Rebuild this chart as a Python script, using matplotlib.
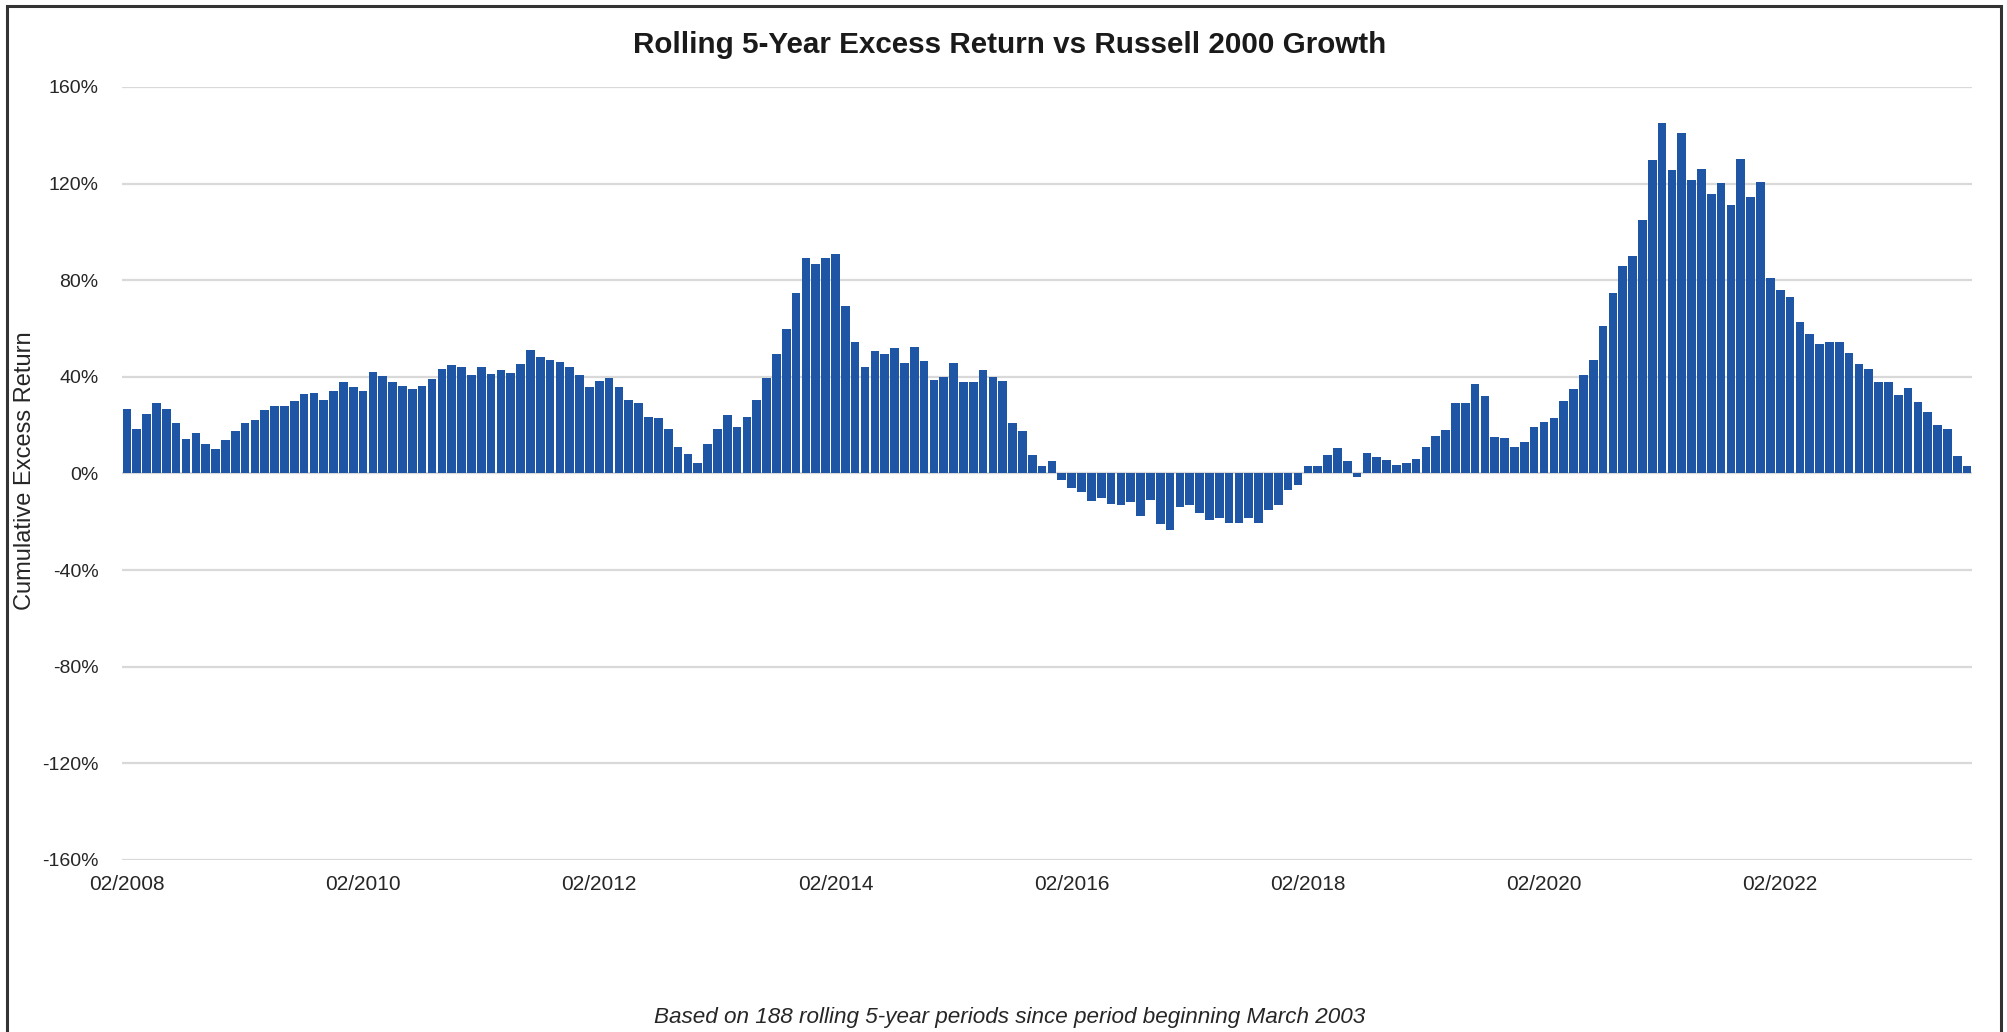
import matplotlib
matplotlib.use('Agg')
import matplotlib.pyplot as plt
import matplotlib.patches as patches
import numpy as np
import pandas as pd

bar_color = '#1f55a5'
grid_color = '#d9d9d9'
text_color = '#262626'

# period end months, 03/2003 start -> first 5-year window ends 02/2008
periods = pd.date_range('2008-02-01', periods=188, freq='MS').strftime('%m/%Y').tolist()

# cumulative 5-year excess return (%) per rolling period
excess_2008_2011 = [
    26.5, 18.6, 24.8, 29.2, 26.5, 20.7, 14.3, 16.6, 12.4, 10.0, 13.8, 17.7,
    20.7, 22.0, 26.3, 27.9, 27.9, 29.9, 32.7, 33.2, 30.6, 34.0, 37.7, 35.6,
    34.0, 41.9, 40.4, 37.7, 36.3, 34.8, 36.1, 39.3, 43.4, 44.8, 43.9, 40.7,
    43.9, 41.1, 42.8, 41.5, 45.5, 51.0, 48.3, 46.9, 46.2, 43.9, 40.7, 35.6,
]
excess_2012_2015 = [
    38.3, 39.6, 35.6, 30.3, 29.2, 23.4, 22.8, 18.3, 10.8, 8.0, 4.5, 12.4,
    18.3, 24.1, 19.3, 23.4, 30.3, 39.5, 49.5, 60.0, 74.8, 89.4, 86.6, 89.4,
    91.0, 69.3, 54.6, 44.1, 50.5, 49.5, 51.8, 45.7, 52.5, 46.4, 38.6, 40.0,
    45.7, 37.9, 37.9, 42.7, 39.8, 38.2, 21.1, 17.7, 7.5, 3.0, 5.2, -2.5,
]
excess_2016_2019 = [
    -6.1, -7.5, -11.5, -10.3, -12.5, -13.2, -11.7, -17.4, -11.0, -21.1, -23.2, -13.9,
    -13.2, -16.3, -19.4, -18.3, -20.7, -20.7, -18.3, -20.4, -15.3, -13.2, -6.9, -4.9,
    3.2, 3.2, 7.8, 10.6, 5.3, -1.4, 8.3, 6.9, 5.6, 3.6, 4.4, 5.8,
    10.9, 15.6, 17.8, 29.2, 29.0, 36.9, 32.0, 15.0, 14.5, 10.9, 13.1, 19.1,
]
excess_2020_2023 = [
    21.4, 22.8, 29.9, 34.8, 40.6, 47.1, 61.1, 74.7, 85.7, 90.2, 104.8, 129.6,
    145.0, 125.7, 141.0, 121.6, 126.2, 115.8, 120.1, 111.0, 130.0, 114.4, 120.8, 80.8,
    75.8, 73.0, 62.7, 57.8, 53.4, 54.4, 54.4, 50.0, 45.2, 43.2, 38.0, 38.0,
    32.5, 35.3, 29.7, 25.3, 19.9, 18.5, 7.1, 3.0,
]
excess = excess_2008_2011 + excess_2012_2015 + excess_2016_2019 + excess_2020_2023

y_ticks = [-160, -120, -80, -40, 0, 40, 80, 120, 160]
label_every = 24

plt.rcParams['font.family'] = ['Liberation Sans', 'DejaVu Sans']

fig = plt.figure(figsize=(20.07, 10.32), dpi=100, facecolor='white')
ax = fig.add_axes([0.0608, 0.1667, 0.9218, 0.749])

x = np.arange(len(excess))
ax.bar(x, excess, width=0.88, color=bar_color, zorder=2)

ax.set_xlim(-0.5, len(excess) - 0.5)
ax.set_ylim(-160, 160)
ax.set_yticks(y_ticks)
ax.set_yticklabels([f'{v}%' for v in y_ticks], fontsize=14, color=text_color)
ax.set_xticks(x[::label_every])
ax.set_xticklabels(periods[::label_every], fontsize=15, color=text_color)
ax.tick_params(axis='both', length=0)
ax.tick_params(axis='y', pad=17)
ax.tick_params(axis='x', pad=11)

ax.grid(axis='y', color=grid_color, lw=1.6, zorder=0)
for spine in ax.spines.values():
    spine.set_visible(False)

fig.text(0.0125, 0.544, 'Cumulative Excess Return', rotation=90, fontsize=17,
         color=text_color, ha='center', va='center')
fig.text(0.503, 0.956, 'Rolling 5-Year Excess Return vs Russell 2000 Growth',
         fontsize=21.3, weight='bold', color='#1a1a1a', ha='center', va='center')
fig.text(0.503, 0.0136, 'Based on 188 rolling 5-year periods since period beginning March 2003',
         fontsize=16.2, style='italic', color=text_color, ha='center', va='center')

# frame around the chart (bottom edge is cut off in the original)
fig.patches.append(patches.Rectangle((0.0035, -0.02), 0.9935, 0.015 + 0.9995,
                                     transform=fig.transFigure, fill=False,
                                     edgecolor='#333333', lw=2.2))

plt.savefig('out.png', dpi=100, facecolor='white')
plt.close()
